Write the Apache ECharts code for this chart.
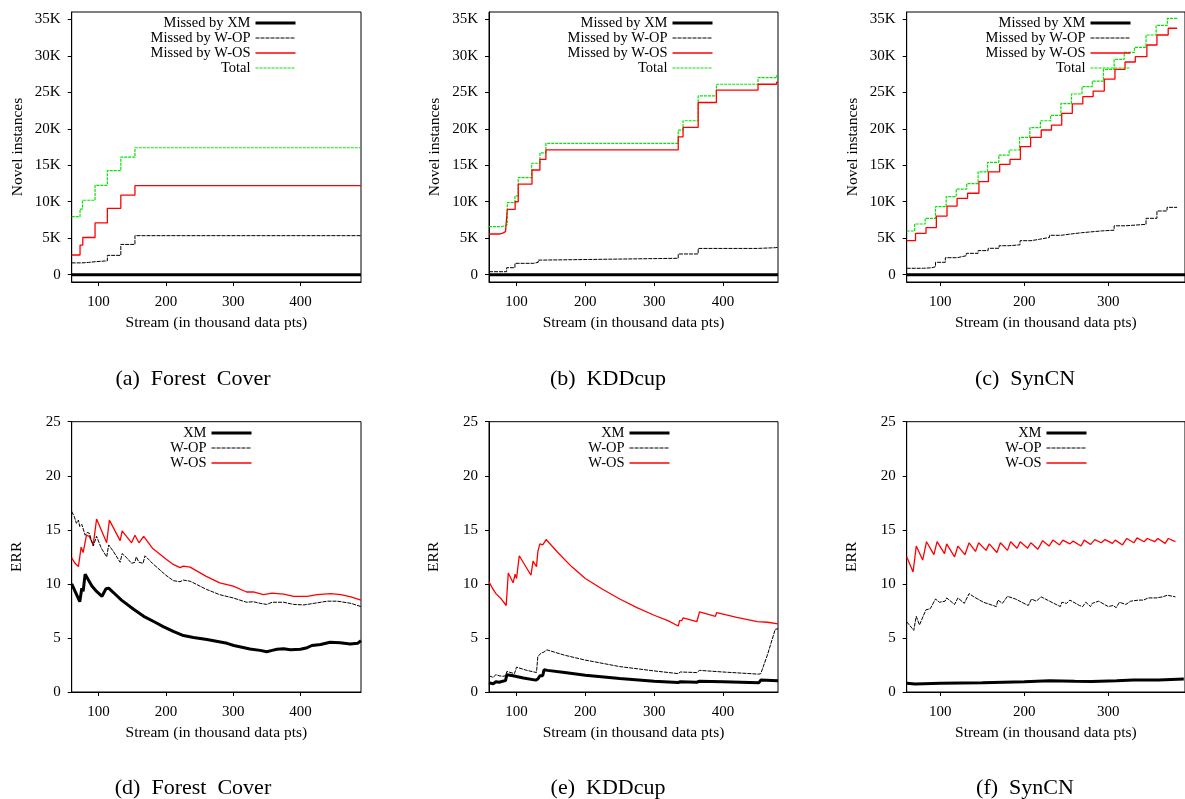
<!DOCTYPE html>
<html><head><meta charset="utf-8">
<script src="https://cdn.jsdelivr.net/npm/echarts@6/dist/echarts.min.js"></script>
<style>html,body{margin:0;padding:0;background:#fff}#c{width:1185px;height:799px}</style>
</head><body><div id="c"></div>
<script>
// ---------- tick labels ----------
const streamTicks = [100, 200, 300, 400];
const novelTicks = [0, 5000, 10000, 15000, 20000, 25000, 30000, 35000];
const errTicks = [0, 5, 10, 15, 20, 25];
const topNames = ['Missed by XM', 'Missed by W-OP', 'Missed by W-OS', 'Total'];
const botNames = ['XM', 'W-OP', 'W-OS'];
const captions = ['(a)\u00a0\u00a0Forest\u00a0\u00a0Cover', '(b)\u00a0\u00a0KDDcup', '(c)\u00a0\u00a0SynCN',
                  '(d)\u00a0\u00a0Forest\u00a0\u00a0Cover', '(e)\u00a0\u00a0KDDcup', '(f)\u00a0\u00a0SynCN'];

// ---------- (a) Forest Cover: novel instances (step series) ----------
const aXMX = [60, 490];               const aXMY = [0, 0];
const aWOPX = [60, 75, 85, 94.7, 113, 133, 154, 490];
const aWOPY = [1620, 1680, 1780, 1900, 2650, 4150, 5350, 5350];
const aWOSX = [60, 72.4, 76.5, 94.7, 113, 133, 154, 490];
const aWOSY = [2700, 4050, 5100, 7100, 9100, 10900, 12200, 12200];
const aTotalX = [60, 72.4, 76, 94.7, 113, 133, 154, 490];
const aTotalY = [7950, 9000, 10200, 12250, 14250, 16100, 17400, 17400];

// ---------- (b) KDDcup ----------
const bXMX = [60, 480];               const bXMY = [0, 0];
const bWOPX = [60, 85.7, 97.7, 125, 131.5, 136, 335, 364, 450, 476, 480];
const bWOPY = [410, 960, 1560, 1700, 2000, 2250, 2840, 3600, 3700, 3750, 3750];
const bWOSX = [60, 76, 80, 84, 86.6, 98, 102.5, 122.5, 134, 142.7, 335, 342, 364, 390.5, 451, 478, 480];
const bWOSY = [5580, 5700, 5900, 6100, 8960, 10000, 12400, 14350, 15800, 17100, 18900, 20200, 23600, 25300, 26100, 26400, 26400];
const bTotalX = [60, 78, 83, 86.6, 97.7, 102.5, 122, 134, 142.7, 335, 342, 364, 390.5, 451, 478, 480];
const bTotalY = [6580, 6700, 6850, 9870, 10800, 13300, 15270, 16700, 18000, 19800, 21100, 24500, 26100, 27000, 27300, 27300];

// ---------- (c) SynCN ----------
const cXMX = [60, 395];               const cXMY = [0, 0];
const cWOPX = [60, 80, 90, 94.3, 106, 120, 131, 145, 157, 170, 182, 195, 208, 218, 230, 244, 257, 268, 292, 307, 320, 345, 358, 370, 382];
const cWOPY = [880, 950, 1100, 1700, 2330, 2600, 2930, 3300, 3620, 3970, 4100, 4660, 4850, 5100, 5400, 5600, 5750, 6000, 6100, 6700, 6900, 7730, 8730, 9230, 9230];
const cWOSX = [60, 70.5, 83, 95.3, 108, 120, 132.5, 146, 157.3, 170.7, 183, 195.4, 207.6, 220.2, 232.4, 244.6, 257.2, 269.7, 282, 295.3, 308, 320, 332.2, 346, 358, 371.4, 382];
const cWOSY = [4660, 5670, 6440, 8040, 9410, 10470, 11160, 12750, 14100, 15130, 15800, 17540, 18830, 19830, 20500, 22100, 23400, 24400, 25170, 26800, 28140, 29150, 29880, 31480, 32850, 33770, 33770];
const cTotalX = [60, 69.5, 82, 94.3, 107, 119, 131.5, 145, 156.3, 169.7, 182, 194.4, 206.6, 219.2, 231.4, 243.6, 256.2, 268.7, 281, 294.3, 307, 319, 331.2, 345, 357, 370.4, 382];
const cTotalY = [5990, 6950, 7730, 9320, 10700, 11740, 12470, 14100, 15400, 16400, 17090, 18830, 20150, 21100, 21840, 23440, 24760, 25760, 26540, 28140, 29500, 30460, 31160, 32850, 34170, 35130, 35130];

// ---------- (d) Forest Cover: ERR ----------
const dXM = [[60,10.0],[72,8.35],[75,9.6],[77,9.3],[80,10.9],[82,10.8],[90,9.8],[97,9.3],[105,8.85],[111,9.55],[115,9.6],[122,9.2],[134,8.5],[152,7.65],[167,7.0],[184,6.45],[196,6.05],[211,5.6],[226,5.22],[241,5.05],[261,4.85],[291,4.5],[301,4.3],[325,3.98],[340,3.85],[350,3.72],[358,3.85],[365,3.95],[375,4.0],[385,3.9],[400,3.95],[410,4.1],[417,4.3],[430,4.4],[444,4.6],[459,4.55],[474,4.45],[485,4.5],[490,4.75]];
const dWOP = [[60,16.7],[64,16.2],[67,15.6],[70,15.9],[72,15.3],[75,15.5],[80,14.5],[83,14.75],[86,14.7],[92,13.5],[97,14.4],[104,13.3],[112,12.5],[115,13.6],[122,13.0],[132,12.0],[135,12.8],[142,12.4],[149,11.9],[154,12.0],[156,12.5],[160,12.0],[166,11.9],[169,12.6],[180,11.9],[200,10.8],[211,10.3],[221,10.2],[226,10.35],[236,10.25],[260,9.5],[280,9.0],[300,8.7],[320,8.3],[330,8.35],[340,8.2],[350,8.1],[358,8.3],[375,8.3],[390,8.1],[405,8.05],[420,8.2],[440,8.4],[455,8.4],[475,8.2],[490,7.9]];
const dWOS = [[60,12.4],[65,11.9],[70,11.6],[74,13.4],[77,12.9],[82,14.5],[86,14.4],[92,13.6],[97,16.0],[112,13.8],[116,15.9],[132,14.0],[135,14.9],[149,13.8],[154,14.5],[160,13.8],[167,14.4],[180,13.3],[200,12.3],[211,11.8],[221,11.5],[226,11.65],[236,11.55],[260,10.7],[280,10.1],[300,9.8],[320,9.25],[330,9.25],[345,9.0],[358,9.15],[375,9.05],[390,8.85],[410,8.85],[425,9.0],[445,9.1],[460,9.0],[475,8.8],[490,8.5]];

// ---------- (e) KDDcup: ERR ----------
const eXM = [[60,0.85],[66,0.75],[70,0.95],[75,0.9],[80,1.0],[84,1.05],[86,1.6],[95,1.5],[110,1.3],[128,1.1],[131,1.2],[134,1.5],[138,1.5],[140,2.05],[145,2.0],[170,1.8],[200,1.55],[250,1.25],[300,1.0],[335,0.88],[338,0.95],[362,0.9],[366,1.0],[400,0.95],[452,0.85],[455,1.1],[480,1.05]];
const eWOP = [[60,1.5],[66,1.35],[70,1.6],[75,1.5],[80,1.45],[84,1.5],[86,1.9],[97,1.7],[100,2.3],[115,2.0],[129,1.8],[131,3.3],[136,3.6],[140,3.7],[144,3.9],[170,3.4],[200,2.95],[250,2.35],[300,1.95],[335,1.7],[338,1.85],[362,1.8],[366,2.0],[400,1.85],[452,1.65],[455,1.7],[465,3.5],[476,5.8],[480,5.85]];
const eWOS = [[60,10.2],[65,9.6],[70,9.1],[78,8.6],[85,8.0],[88,11.0],[95,10.1],[98,10.9],[100,10.5],[104,12.6],[121,10.8],[124,12.1],[129,11.6],[131,13.0],[134,13.7],[138,13.6],[140,13.8],[143,14.1],[160,12.9],[180,11.6],[200,10.5],[225,9.5],[250,8.6],[275,7.8],[300,7.1],[320,6.6],[335,6.1],[337,6.6],[340,6.6],[342,6.85],[362,6.5],[366,7.4],[389,7.0],[391,7.35],[420,6.9],[450,6.5],[452,6.6],[465,6.45],[480,6.3]];

// ---------- (f) SynCN: ERR ----------
const fXM = [[60,0.8],[70,0.75],[100,0.8],[150,0.85],[200,0.95],[230,1.05],[260,1.0],[280,0.98],[310,1.05],[330,1.1],[360,1.12],[390,1.2]];
const fWOP = [[60,6.5],[68.4,5.7],[71.4,7.0],[75.2,6.2],[82.9,7.6],[88,7.7],[94.3,8.6],[99,8.3],[105.7,8.4],[107.6,8.7],[117,8.1],[121,8.7],[128.6,8.2],[134.3,9.1],[140,8.8],[151.4,8.3],[166.7,7.9],[168.6,8.5],[174,8.2],[180,8.85],[189.5,8.6],[204.8,8.0],[208.6,8.6],[214.3,8.4],[220,8.8],[235.2,8.2],[242.9,7.9],[244.8,8.3],[250.5,8.2],[254.3,8.5],[265.7,8.0],[269.5,7.9],[273.3,8.3],[279,7.9],[281,8.2],[288.6,8.4],[300,7.9],[305.7,8.0],[309.5,7.8],[313.3,8.3],[321,8.1],[326.7,8.4],[336.2,8.5],[342,8.5],[347.6,8.7],[357,8.7],[364.8,8.8],[370.5,8.95],[380,8.8]];
const fWOS = [[60,12.5],[67.6,11.1],[71.4,13.5],[79,12.2],[83.6,13.9],[92.4,12.7],[96.2,13.9],[105,12.8],[107.6,13.7],[117,12.5],[121,13.5],[129.3,12.7],[134.3,13.8],[141.9,13.0],[145.7,13.8],[154.5,13.1],[158.3,13.7],[167.4,12.9],[171.6,13.8],[180,13.1],[183.8,13.9],[191.4,13.3],[195.2,13.9],[204,13.3],[207.8,13.8],[216.2,13.2],[221.9,14.0],[229.5,13.5],[234.1,14.05],[242,13.6],[245.9,14.05],[254.3,13.7],[258,13.95],[267.6,13.5],[271.4,14.05],[279,13.65],[284,14.1],[291.6,13.8],[296.2,14.1],[305,13.75],[308.4,14.05],[317,13.6],[322,14.2],[330.5,13.8],[334.3,14.25],[342.7,13.9],[346.5,14.2],[355.2,13.9],[359,14.2],[367.8,13.75],[371.6,14.2],[380,13.9]];

// ---------- build ----------
const FONT = "'Liberation Serif', 'Times New Roman', serif";
const pairs = (xs, ys) => xs.map((x, i) => [x, ys[i]]);
const ST = {
  XM:  { color: '#000000', width: 3, type: 'solid' },
  WOP: { color: '#000000', width: 1, type: [4, 1] },
  WOS: { color: '#ff0000', width: 1.3, type: 'solid' },
  TOT: { color: '#00e600', width: 1.2, type: [3, 1] }
};
const panels = [
  { left: 71.7, top: 12, width: 289.3, height: 270, xmax: 490, kind: 'novel', legRight: 888,
    s: [['Total', pairs(aTotalX, aTotalY), 'TOT', true], ['Missed by W-OS', pairs(aWOSX, aWOSY), 'WOS', true], ['Missed by W-OP', pairs(aWOPX, aWOPY), 'WOP', true], ['Missed by XM', pairs(aXMX, aXMY), 'XM', true]],
    cap: [193, 379] },
  { left: 489, top: 12, width: 289, height: 270, xmax: 480, kind: 'novel', legRight: 471,
    s: [['Total', pairs(bTotalX, bTotalY), 'TOT', true], ['Missed by W-OS', pairs(bWOSX, bWOSY), 'WOS', true], ['Missed by W-OP', pairs(bWOPX, bWOPY), 'WOP', true], ['Missed by XM', pairs(bXMX, bXMY), 'XM', true]],
    cap: [608, 379] },
  { left: 906.7, top: 12, width: 290, height: 270, xmax: 391.4, kind: 'novel', legRight: 53,
    s: [['Total', pairs(cTotalX, cTotalY), 'TOT', true], ['Missed by W-OS', pairs(cWOSX, cWOSY), 'WOS', true], ['Missed by W-OP', pairs(cWOPX, cWOPY), 'WOP', true], ['Missed by XM', pairs(cXMX, cXMY), 'XM', true]],
    cap: [1025, 379] },
  { left: 71.7, top: 421.7, width: 289.3, height: 270.3, xmax: 490, kind: 'err', legRight: 932,
    s: [['W-OS', dWOS, 'WOS', false], ['W-OP', dWOP, 'WOP', false], ['XM', dXM, 'XM', false]],
    cap: [193, 788] },
  { left: 489, top: 421.7, width: 289, height: 270.3, xmax: 480, kind: 'err', legRight: 514,
    s: [['W-OS', eWOS, 'WOS', false], ['W-OP', eWOP, 'WOP', false], ['XM', eXM, 'XM', false]],
    cap: [608, 788] },
  { left: 906.7, top: 421.7, width: 290, height: 270.3, xmax: 391.4, kind: 'err', legRight: 97,
    s: [['W-OS', fWOS, 'WOS', false], ['W-OP', fWOP, 'WOP', false], ['XM', fXM, 'XM', false]],
    cap: [1025, 788] }
];

const txt = { fontFamily: FONT, fontSize: 15, color: '#000' };
const option = { animation: false, backgroundColor: '#fff', grid: [], xAxis: [], yAxis: [], series: [], legend: [], graphic: [] };

panels.forEach((p, i) => {
  option.grid.push({ left: p.left, top: p.top, width: p.width, height: p.height, show: true,
    borderColor: '#000', borderWidth: 1, backgroundColor: 'transparent', containLabel: false });
  option.xAxis.push({ type: 'value', gridIndex: i, min: 60, max: p.xmax,
    name: 'Stream (in thousand data pts)', nameLocation: 'middle', nameGap: 33,
    nameTextStyle: { fontFamily: FONT, fontSize: 15.5, color: '#000' },
    axisLine: { onZero: false, lineStyle: { color: '#000', width: 1 } },
    axisTick: { inside: false, length: 4, customValues: streamTicks, lineStyle: { color: '#000' } },
    axisLabel: Object.assign({ customValues: streamTicks, margin: 13 }, txt),
    splitLine: { show: false } });
  const novel = p.kind === 'novel';
  const yt = novel ? novelTicks : errTicks;
  option.yAxis.push({ type: 'value', gridIndex: i,
    min: novel ? -1000 : 0, max: novel ? 36000 : 25,
    name: novel ? 'Novel instances' : 'ERR', nameLocation: 'middle', nameGap: novel ? 46 : 47,
    nameTextStyle: { fontFamily: FONT, fontSize: 15.5, color: '#000' },
    axisLine: { onZero: false, lineStyle: { color: '#000', width: 1 } },
    axisTick: { inside: false, length: 4, customValues: yt, lineStyle: { color: '#000' } },
    axisLabel: Object.assign({ customValues: yt, margin: 11,
      formatter: v => novel ? (v === 0 ? '0' : (v / 1000) + 'K') : String(v) }, txt),
    splitLine: { show: false } });
  p.s.forEach(([name, data, st, step]) => {
    const s = ST[st];
    option.series.push({ type: 'line', name, xAxisIndex: i, yAxisIndex: i, data,
      step: step ? 'end' : false, symbol: 'none', showSymbol: false, clip: true,
      lineStyle: { color: s.color, width: s.width, type: s.type }, itemStyle: { color: s.color },
      emphasis: { disabled: true } });
  });
  option.legend.push({ orient: 'vertical', align: 'right', right: p.legRight,
    top: novel ? 15.5 : 425.5, padding: 0, itemGap: 0, itemWidth: 40, itemHeight: 15,
    selectedMode: false, data: novel ? topNames : botNames,
    lineStyle: { width: 'inherit' },
    itemStyle: { color: 'rgba(0,0,0,0)', borderColor: 'rgba(0,0,0,0)', borderWidth: 0, opacity: 0 },
    textStyle: { fontFamily: FONT, fontSize: 14.5, color: '#000' } });
  option.graphic.push({ type: 'text', x: p.cap[0], y: p.cap[1],
    style: { text: captions[i], font: "22px 'Liberation Serif', serif", fill: '#000', align: 'center', verticalAlign: 'middle' } });
});

const chart = echarts.init(document.getElementById('c'));
chart.setOption(option);
</script>
</body></html>
